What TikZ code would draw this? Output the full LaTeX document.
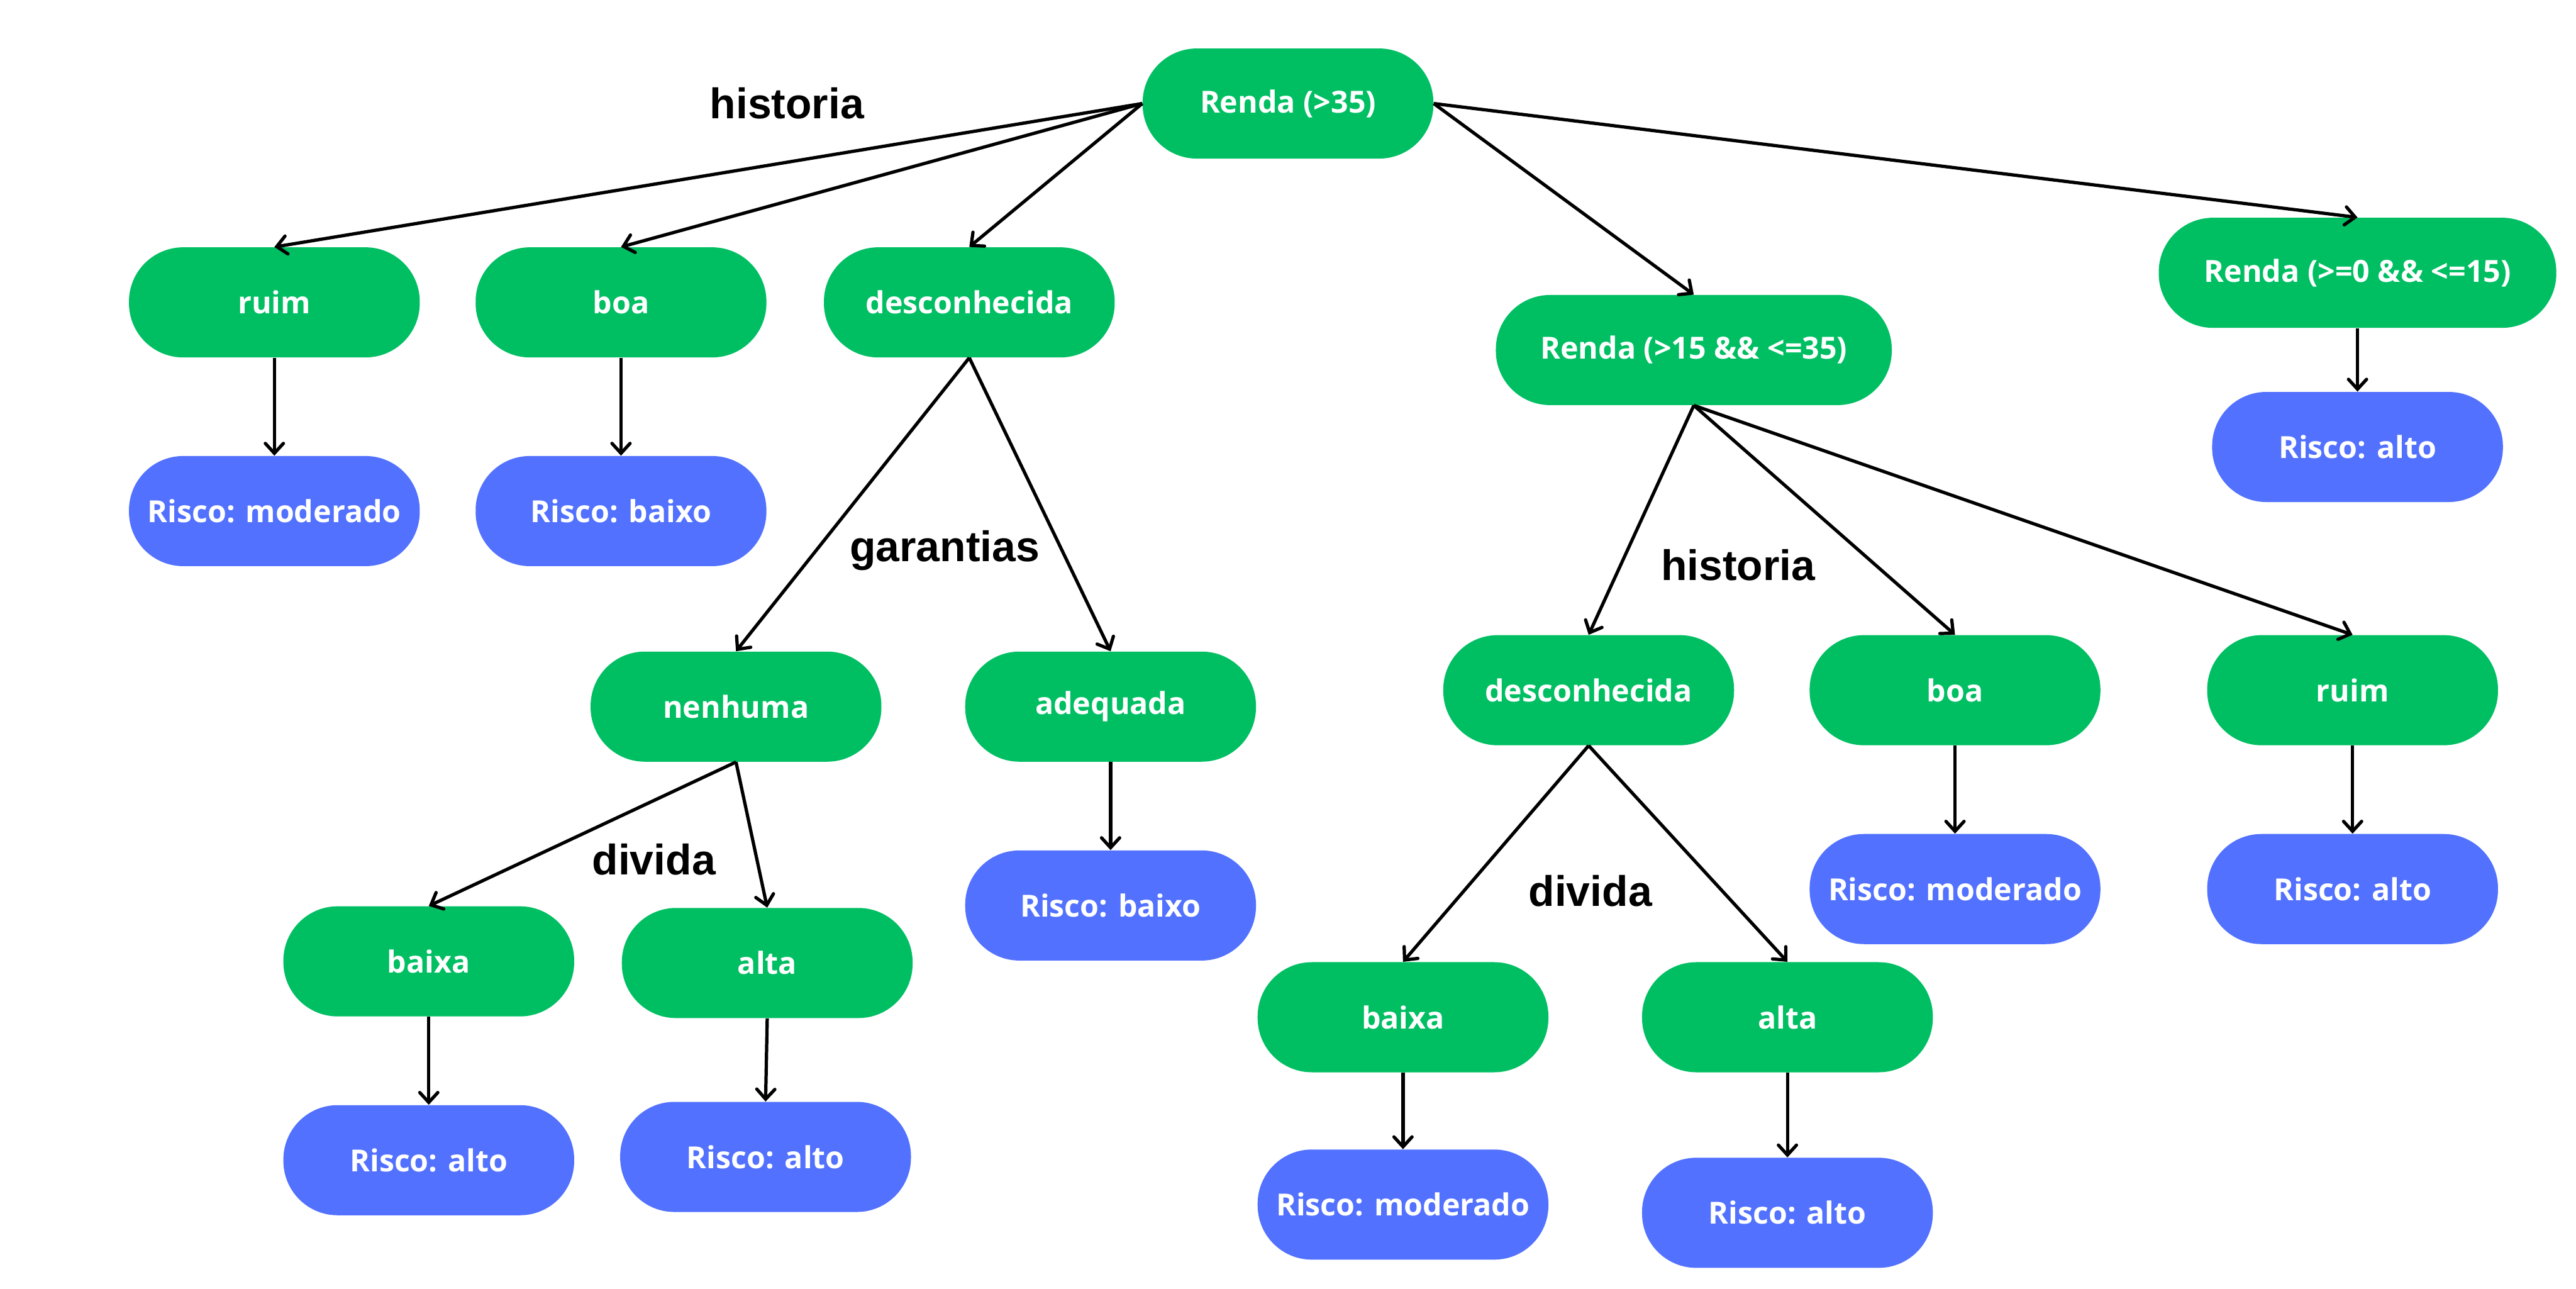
\documentclass[tikz,border=0pt]{standalone}
\usepackage{fontspec}
\setmainfont{Open Sans}
\newfontfamily\labfont{Liberation Sans}
\usetikzlibrary{arrows.meta}
\definecolor{ngreen}{HTML}{00BF63}
\definecolor{nblue}{HTML}{5271FF}
\begin{document}
\begin{tikzpicture}[x=1pt,y=-1pt,
 pill/.style={rectangle, rounded corners=33pt, minimum width=177pt, minimum height=67pt, inner sep=0pt, text=white, font=\bfseries\fontsize{18.5}{22}\selectfont},
 dec/.style={pill, fill=ngreen},
 res/.style={pill, fill=nblue},
 lab/.style={font=\labfont\bfseries\fontsize{26}{30}\selectfont, text=black},
 arr/.style={draw=black, line width=2pt, -{Straight Barb[length=6pt,width=11pt,line cap=round]}}
]
\fill[white] (0,0) rectangle (1568,784);
\useasboundingbox (0,0) rectangle (1568,784);

% nodes
\node[dec] (root) at (784,63) {Renda (>35)};
\node[dec] (ruimA) at (167,184) {ruim};
\node[dec] (boaA) at (378,184) {boa};
\node[dec] (descA) at (590,184) {desconhecida};
\node[dec, minimum width=241pt] (mid) at (1031,213) {Renda (>15 \&\& <=35)};
\node[dec, minimum width=242pt] (low) at (1435,166) {Renda (>=0 \&\& <=15)};

\node[res] (rModA) at (167,311) {Risco: moderado};
\node[res] (rBaiA) at (378,311) {Risco: baixo};
\node[res] (rAltTop) at (1435,272) {Risco: alto};

\node[dec] (nenh) at (448,430) {nenhuma};
\node[dec] (adeq) at (676,430) {adequada};
\node[res] (rBaiB) at (676,551) {Risco: baixo};

\node[dec] (baixaA) at (261,585) {baixa};
\node[dec] (altaA) at (467,586) {alta};
\node[res] (rAltA) at (261,706) {Risco: alto};
\node[res] (rAltB) at (466,704) {Risco: alto};

\node[dec] (descB) at (967,420) {desconhecida};
\node[dec] (boaB) at (1190,420) {boa};
\node[dec] (ruimB) at (1432,420) {ruim};
\node[res] (rModB) at (1190,541) {Risco: moderado};
\node[res] (rAltR) at (1432,541) {Risco: alto};

\node[dec] (baixaB) at (854,619) {baixa};
\node[dec] (altaB) at (1088,619) {alta};
\node[res] (rModC) at (854,733) {Risco: moderado};
\node[res] (rAltC) at (1088,738) {Risco: alto};

% labels
\node[lab] (l1) at (479,63) {historia};
\node[lab] (l2) at (575,335) {garantias};
\node[lab] (l3) at (398,523) {divida};
\node[lab] (l4) at (1058,344) {historia};
\node[lab] (l5) at (968,542) {divida};

% connectors
\draw[arr] (root.west) -- (ruimA.north);
\draw[arr] (root.west) -- (boaA.north);
\draw[arr] (root.west) -- (descA.north);
\draw[arr] (root.east) -- (mid.north);
\draw[arr] (root.east) -- (low.north);

\draw[arr] (ruimA.south) -- (rModA.north);
\draw[arr] (boaA.south) -- (rBaiA.north);
\draw[arr] (low.south) -- (rAltTop.north);

\draw[arr] (descA.south) -- (nenh.north);
\draw[arr] (descA.south) -- (adeq.north);
\draw[arr] (adeq.south) -- (rBaiB.north);

\draw[arr] (nenh.south) -- (baixaA.north);
\draw[arr] (nenh.south) -- (altaA.north);
\draw[arr] (baixaA.south) -- (rAltA.north);
\draw[arr] (altaA.south) -- (rAltB.north);

\draw[arr] (mid.south) -- (descB.north);
\draw[arr] (mid.south) -- (boaB.north);
\draw[arr] (mid.south) -- (ruimB.north);
\draw[arr] (boaB.south) -- (rModB.north);
\draw[arr] (ruimB.south) -- (rAltR.north);

\draw[arr] (descB.south) -- (baixaB.north);
\draw[arr] (descB.south) -- (altaB.north);
\draw[arr] (baixaB.south) -- (rModC.north);
\draw[arr] (altaB.south) -- (rAltC.north);
\end{tikzpicture}
\end{document}
